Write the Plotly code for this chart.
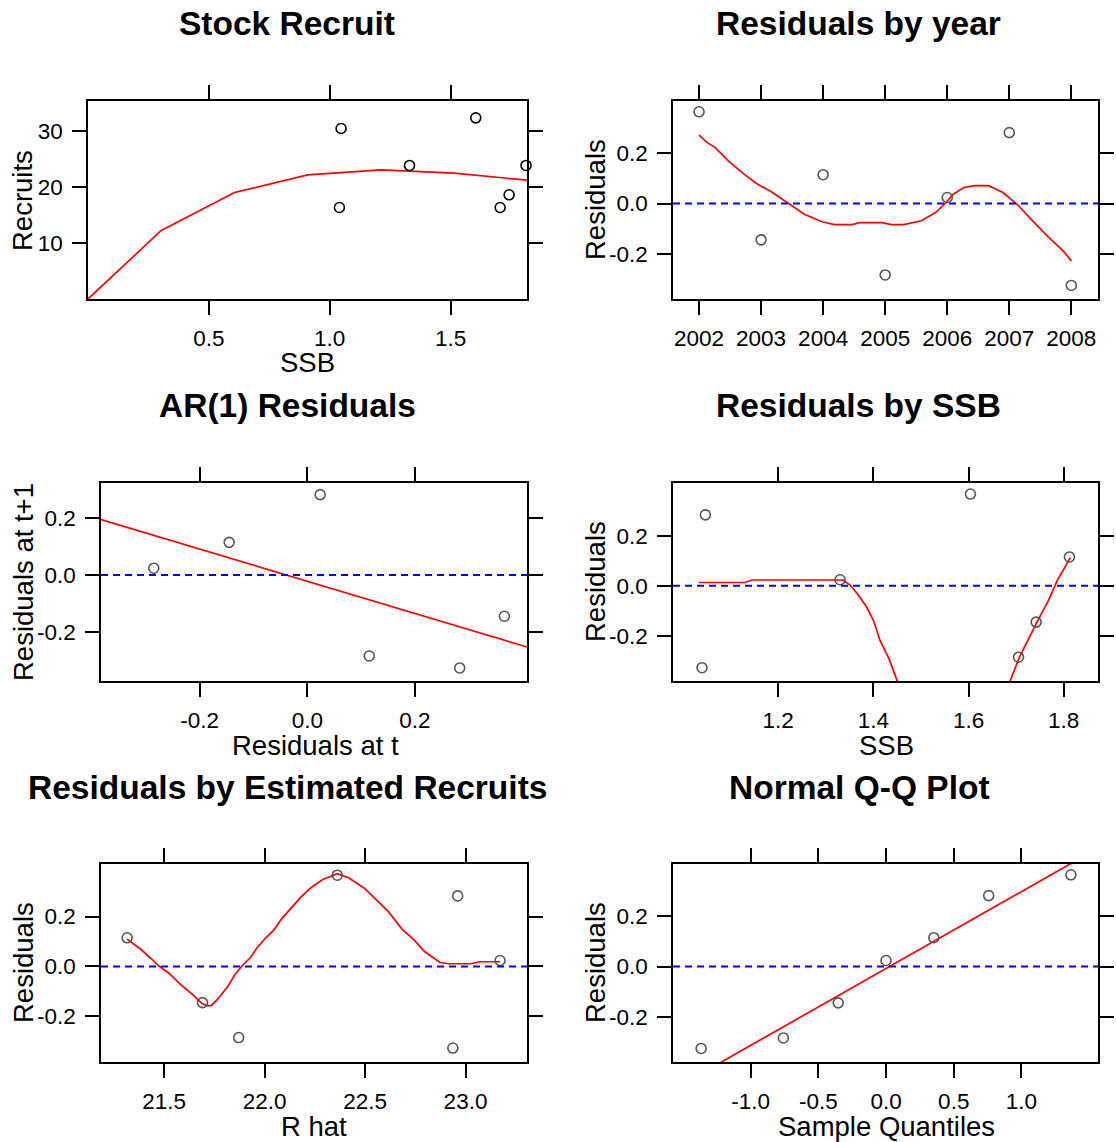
import numpy as np
import plotly.graph_objects as go

# ---- data ----
years = [2002, 2003, 2004, 2005, 2006, 2007, 2008]
ssb = [1.604, 1.742, 1.812, 1.705, 1.330, 1.047, 1.040]
recruits = [32.39, 18.63, 23.88, 16.36, 23.88, 30.48, 16.36]
residuals = [0.366, -0.145, 0.115, -0.285, 0.024, 0.283, -0.327]
r_hat = [22.362, 21.691, 21.316, 21.871, 23.172, 22.961, 22.937]

# fitted stock-recruit curve
fit_ssb = [0.0, 0.303, 0.606, 0.909, 1.212, 1.515, 1.816]
fit_rec = [0.0, 12.25, 19.04, 22.18, 23.10, 22.50, 21.25]

# loess smoother: residuals by year
lo_year_x = [2002.0, 2002.126, 2002.257, 2002.497, 2002.726, 2002.926, 2003.183, 2003.411,
             2003.697, 2003.983, 2004.183, 2004.469, 2004.583, 2004.954, 2005.097, 2005.297,
             2005.583, 2005.811, 2005.954, 2006.097, 2006.269, 2006.44, 2006.669, 2006.897,
             2007.126, 2007.354, 2007.64, 2007.869, 2008.0]
lo_year_y = [0.273, 0.244, 0.224, 0.164, 0.117, 0.080, 0.044, 0.004,
             -0.043, -0.073, -0.084, -0.084, -0.076, -0.076, -0.084, -0.084,
             -0.069, -0.036, -0.003, 0.037, 0.064, 0.071, 0.071, 0.044,
             -0.003, -0.063, -0.136, -0.189, -0.229]

# loess smoother: residuals by SSB (dips far below the panel between 1.45 and 1.69)
lo_ssb_x = [1.033, 1.130, 1.145, 1.336, 1.351, 1.366, 1.385, 1.400, 1.414, 1.433, 1.458,
            None, 1.679, 1.707, 1.744, 1.768, 1.787, 1.814]
lo_ssb_y = [0.013, 0.013, 0.023, 0.023, 0.003, -0.031, -0.082, -0.138, -0.218, -0.292, -0.42,
            None, -0.42, -0.285, -0.144, -0.058, 0.023, 0.112]

# loess smoother: residuals by estimated recruits
lo_rhat_x = [21.316, 21.387, 21.438, 21.473, 21.524, 21.584, 21.644, 21.687, 21.713, 21.734,
             21.765, 21.816, 21.851, 21.893, 21.928, 21.962, 22.005, 22.048, 22.082, 22.125,
             22.177, 22.229, 22.289, 22.362, 22.418, 22.495, 22.555, 22.615, 22.684, 22.744,
             22.796, 22.873, 22.916, 23.027, 23.070, 23.172]
lo_rhat_y = [0.110, 0.067, 0.030, 0.003, -0.027, -0.074, -0.114, -0.148, -0.157, -0.157,
             -0.132, -0.081, -0.034, 0.007, 0.034, 0.074, 0.114, 0.148, 0.188, 0.228,
             0.275, 0.315, 0.349, 0.372, 0.356, 0.315, 0.268, 0.221, 0.150, 0.107,
             0.060, 0.016, 0.011, 0.011, 0.019, 0.019]

# theoretical normal quantiles for 7 points
qq_x = [-1.365, -0.758, -0.353, 0.0, 0.353, 0.758, 1.365]

# ---- layout geometry (pixels) ----
W, H = 1116, 1142
FONT = "Liberation Sans, Arial, sans-serif"
RED = "#ff0000"
PT = "#555555"

panels = [
    # (x0, x1, top, bottom, xrange, yrange)
    (88, 527, 101, 299, [0.0, 1.816], [0.0, 35.4]),
    (673, 1098, 101, 299, [2001.58, 2008.43], [-0.381, 0.409]),
    (101, 527, 483, 681, [-0.383, 0.408], [-0.373, 0.324]),
    (673, 1098, 483, 681, [0.979, 1.872], [-0.38, 0.41]),
    (101, 527, 864, 1062, [21.186, 23.306], [-0.383, 0.411]),
    (673, 1098, 864, 1062, [-1.573, 1.565], [-0.381, 0.409]),
]

res_ticks = [-0.2, 0.0, 0.2]
res_text = ["-0.2", "0.0", "0.2"]
xticks = [
    ([0.5, 1.0, 1.5], ["0.5", "1.0", "1.5"]),
    (years, [str(y) for y in years]),
    ([-0.2, 0.0, 0.2], ["-0.2", "0.0", "0.2"]),
    ([1.2, 1.4, 1.6, 1.8], ["1.2", "1.4", "1.6", "1.8"]),
    ([21.5, 22.0, 22.5, 23.0], ["21.5", "22.0", "22.5", "23.0"]),
    ([-1.0, -0.5, 0.0, 0.5, 1.0], ["-1.0", "-0.5", "0.0", "0.5", "1.0"]),
]
yticks = [([10, 20, 30], ["10", "20", "30"])] + [(res_ticks, res_text)] * 5

fig = go.Figure()

def ax(i):
    return ("x" if i == 0 else f"x{i+1}"), ("y" if i == 0 else f"y{i+1}")

def pts(i, x, y, color):
    xa, ya = ax(i)
    fig.add_trace(go.Scatter(x=x, y=y, mode="markers", xaxis=xa, yaxis=ya,
                             marker=dict(symbol="circle-open", size=10, color=color,
                                         line=dict(width=1.6, color=color)),
                             showlegend=False, hoverinfo="skip", cliponaxis=False))

def line(i, x, y):
    xa, ya = ax(i)
    fig.add_trace(go.Scatter(x=x, y=y, mode="lines", xaxis=xa, yaxis=ya,
                             line=dict(color=RED, width=1.7), connectgaps=False,
                             showlegend=False, hoverinfo="skip"))

# Stock recruit
line(0, fit_ssb, fit_rec)
pts(0, ssb, recruits, "black")

# Residuals by year
line(1, lo_year_x, lo_year_y)
pts(1, years, residuals, PT)

# AR(1) residuals with least-squares line
res_t, res_t1 = residuals[:-1], residuals[1:]
slope, icpt = np.polyfit(res_t, res_t1, 1)
xr = panels[2][4]
line(2, xr, [icpt + slope * v for v in xr])
pts(2, res_t, res_t1, PT)

# Residuals by SSB
line(3, lo_ssb_x, lo_ssb_y)
pts(3, ssb, residuals, PT)

# Residuals by estimated recruits
line(4, lo_rhat_x, lo_rhat_y)
pts(4, r_hat, residuals, PT)

# Normal Q-Q plot with quartile line
sorted_res = sorted(residuals)
q1, q3 = np.percentile(sorted_res, [25, 75])
qslope = (q3 - q1) / (2 * 0.6745)
qicpt = q1 + qslope * 0.6745
xr6 = panels[5][4]
line(5, xr6, [qicpt + qslope * v for v in xr6])
pts(5, qq_x, sorted_res, PT)

layout = dict(width=W, height=H, margin=dict(l=0, r=0, t=0, b=0),
              paper_bgcolor="white", plot_bgcolor="white",
              font=dict(family=FONT, color="black"), showlegend=False)

shapes = []
for i, (x0, x1, top, bot, xrng, yrng) in enumerate(panels):
    xk = "xaxis" if i == 0 else f"xaxis{i+1}"
    yk = "yaxis" if i == 0 else f"yaxis{i+1}"
    xa, ya = ax(i)
    common = dict(showline=True, linecolor="black", linewidth=1.5, mirror="ticks",
                  ticks="outside", ticklen=14, tickwidth=1.5, tickcolor="black",
                  showgrid=False, zeroline=False, tickfont=dict(size=22.5, family=FONT))
    layout[xk] = dict(domain=[x0 / W, x1 / W], range=xrng, anchor=ya,
                      tickvals=xticks[i][0], ticktext=xticks[i][1],
                      ticklabelstandoff=4, **common)
    layout[yk] = dict(domain=[1 - bot / H, 1 - top / H], range=yrng, anchor=xa,
                      tickvals=yticks[i][0], ticktext=yticks[i][1],
                      ticklabelstandoff=5, **common)
    if i > 0:
        shapes.append(dict(type="line", xref=f"{xa} domain", yref=ya, x0=0, x1=1, y0=0, y1=0,
                           line=dict(color="#0000ff", width=2, dash="7px,5px")))
layout["shapes"] = shapes

ann = []
titles = [("Stock Recruit", 287, 23), ("Residuals by year", 858, 23),
          ("AR(1) Residuals", 287, 405), ("Residuals by SSB", 858, 405),
          ("Residuals by Estimated Recruits", 287, 787), ("Normal Q-Q Plot", 859, 787)]
for t, x, y in titles:
    ann.append(dict(text=f"<b>{t}</b>", x=x / W, y=1 - y / H, xref="paper", yref="paper",
                    showarrow=False, xanchor="center", yanchor="middle",
                    font=dict(size=33.5, family=FONT)))
xtitles = [("SSB", 307, 363), ("Residuals at t", 315, 745), ("SSB", 886, 745),
           ("R hat", 314, 1126), ("Sample Quantiles", 886, 1126)]
for t, x, y in xtitles:
    ann.append(dict(text=t, x=x / W, y=1 - y / H, xref="paper", yref="paper",
                    showarrow=False, xanchor="center", yanchor="middle",
                    font=dict(size=27.5, family=FONT)))
ytitles = [("Recruits", 23, 201), ("Residuals", 595, 200), ("Residuals at t+1", 23, 582),
           ("Residuals", 595, 582), ("Residuals", 23, 963), ("Residuals", 595, 963)]
for t, x, y in ytitles:
    ann.append(dict(text=t, x=x / W, y=1 - y / H, xref="paper", yref="paper",
                    showarrow=False, xanchor="center", yanchor="middle", textangle=-90,
                    font=dict(size=27.5, family=FONT)))
layout["annotations"] = ann

fig.update_layout(**layout)
fig.write_html("out.html")
